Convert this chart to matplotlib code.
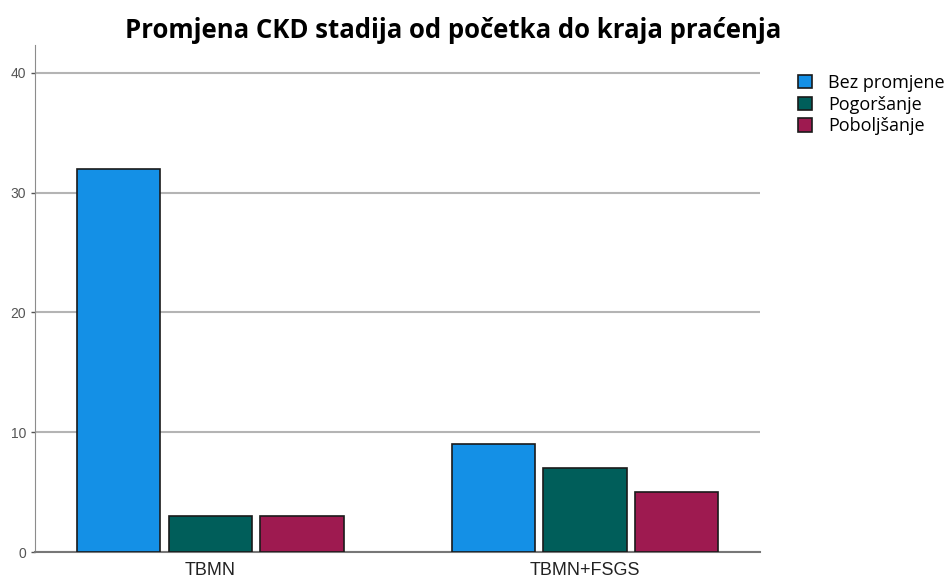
import numpy as np
import matplotlib.pyplot as plt

groups = ['TBMN', 'TBMN+FSGS']
series = ['Bez promjene', 'Pogoršanje', 'Poboljšanje']
bez_promjene = [32, 9]
pogorsanje = [3, 7]
poboljsanje = [3, 5]
colors = ['#1490e6', '#005e5a', '#9e1a50']

fig = plt.figure(figsize=(9.5, 5.8), dpi=100)
ax = fig.add_axes([0.037, 0.048, 0.763, 0.874])

x = np.arange(len(groups))
w = 0.222
step = 0.245
for i, (vals, name) in enumerate(zip([bez_promjene, pogorsanje, poboljsanje], series)):
    ax.bar(x + (i - 1) * step, vals, w, color=colors[i], edgecolor='#1a1a1a',
           linewidth=1.2, label=name, zorder=3)

ax.set_xlim(-0.467, 1.467)
ax.set_ylim(0, 42.3)
ax.set_yticks([0, 10, 20, 30, 40])
ax.yaxis.grid(True, color='#b4b4b4', linewidth=1.5, zorder=0)
ax.tick_params(axis='y', colors='#555555', labelsize=10, length=3, width=1)
ax.tick_params(axis='x', length=0, labelsize=13, pad=7)
ax.set_xticks(x)
ax.set_xticklabels(groups, color='#222222', family='Liberation Sans')
for lbl in ax.get_yticklabels():
    lbl.set_family('Liberation Sans')
for s in ['top', 'right']:
    ax.spines[s].set_visible(False)
ax.spines['left'].set_color('#8c8c8c')
ax.spines['bottom'].set_color('#777777')
ax.spines['bottom'].set_linewidth(1.5)

fig.text(0.477, 0.948, 'Promjena CKD stadija od početka do kraja praćenja',
         ha='center', va='center', fontsize=18.5, fontweight='bold',
         family='Open Sans')

leg = ax.legend(loc='upper left', bbox_to_anchor=(1.03, 0.975), frameon=False,
                prop={'family': 'Open Sans', 'size': 13}, handlelength=0.75,
                handleheight=0.75, handletextpad=0.9, labelspacing=0.2)

fig.savefig('out.png', dpi=100)
